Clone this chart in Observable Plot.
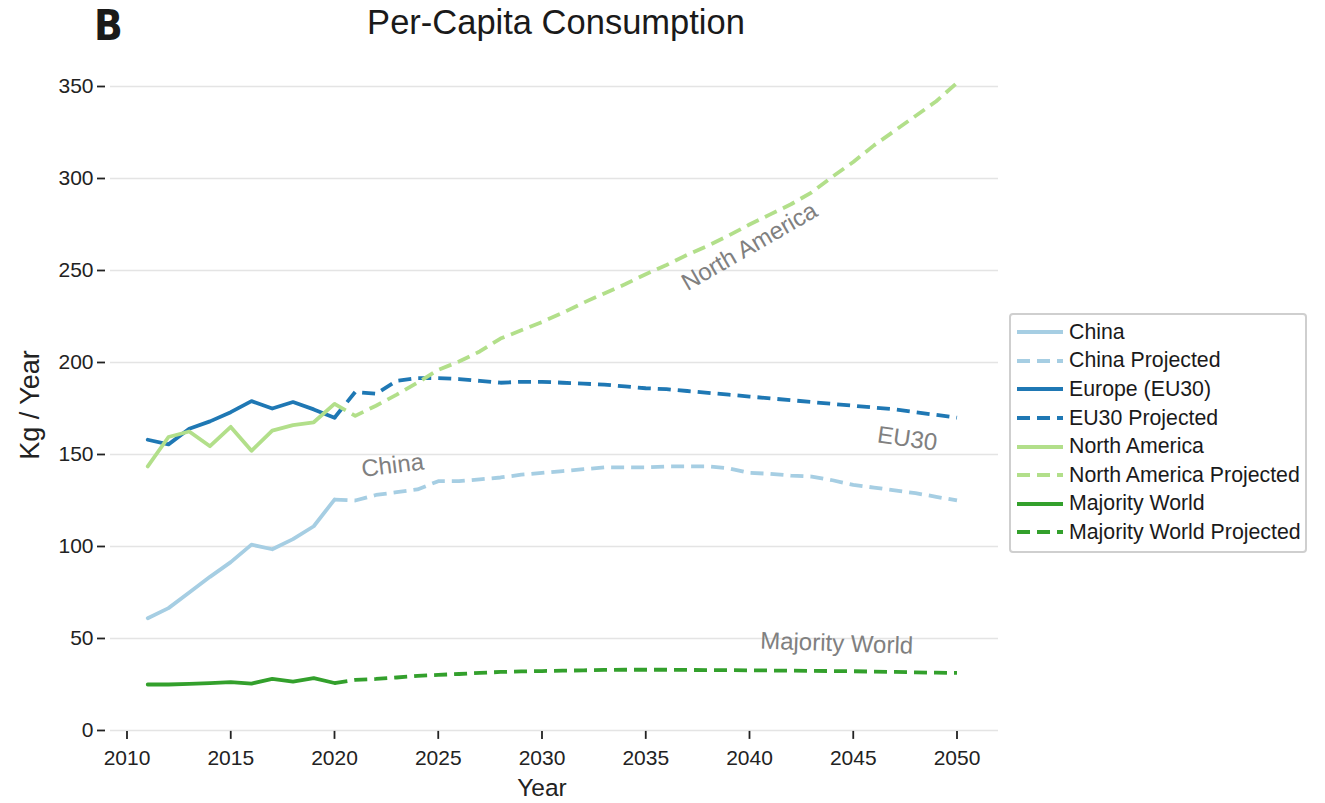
<!DOCTYPE html>
<html>
<head>
<meta charset="utf-8">
<script src="https://cdn.jsdelivr.net/npm/d3@7"></script>
<script src="https://cdn.jsdelivr.net/npm/@observablehq/plot@0.6"></script>
<style>
  html, body { margin: 0; padding: 0; background: #fff; }
  body { width: 1325px; height: 803px; position: relative; overflow: hidden; font-family: "Liberation Sans", Arial, Helvetica, sans-serif; color: #222; }
  #chart { position: absolute; left: 0; top: 0; }
  .abs { position: absolute; white-space: nowrap; }
  #panel { left: 94px; top: 1px; font-size: 42px; font-weight: bold; font-family: "Liberation Sans Narrow", "DejaVu Sans Condensed", "Liberation Sans", sans-serif; color: #1a1a1a; }
  #title { left: 556px; top: 3px; transform: translateX(-50%); font-size: 34.5px; color: #1a1a1a; }
  #xtitle { left: 542px; top: 774px; transform: translateX(-50%); font-size: 24.5px; color: #222; }
  #ytitle { left: 30px; top: 405px; transform: translate(-50%, -50%) rotate(-90deg); font-size: 27px; color: #222; }
  #legend { left: 1009px; top: 313px; width: 298px; height: 240px; border: 2px solid #cfcfcf; border-radius: 4px; box-sizing: border-box; padding-top: 3px; }
  .row { height: 28.6px; display: flex; align-items: center; font-size: 21.3px; color: #1a1a1a; }
  .row svg { margin-left: 6px; margin-right: 6px; }
</style>
</head>
<body>
<div id="chart"></div>
<div class="abs" id="panel">B</div>
<div class="abs" id="title">Per-Capita Consumption</div>
<div class="abs" id="xtitle">Year</div>
<div class="abs" id="ytitle">Kg / Year</div>
<div class="abs" id="legend"></div>
<script>
// ---- data ----
const histYears = [2011, 2012, 2013, 2014, 2015, 2016, 2017, 2018, 2019, 2020];
const projYears = [2020, 2021, 2022, 2023, 2024, 2025, 2026, 2027, 2028, 2029, 2030,
                   2031, 2032, 2033, 2034, 2035, 2036, 2037, 2038, 2039, 2040,
                   2041, 2042, 2043, 2044, 2045, 2046, 2047, 2048, 2049, 2050];

const chinaHist = [61, 66.5, 75, 83.5, 91.5, 101, 98.5, 104, 111, 125.5];
const chinaProj = [125.5, 125, 128, 129.5, 131, 135.5, 135.5, 136.5, 137.5, 139, 140,
                   141, 142, 143, 143, 143, 143.5, 143.5, 143.5, 142.5, 140,
                   139.5, 138.5, 138, 136, 133.5, 132, 130.5, 129, 127, 125];

const euHist = [158, 155.5, 164, 168, 173, 179, 175, 178.5, 174.5, 170];
const euProj = [170, 184, 183, 190, 191.5, 191.5, 191, 190, 189, 189.5, 189.5,
                189, 188.5, 188, 187, 186, 185.5, 184.5, 183.5, 182.5, 181.5,
                180.5, 179.5, 178.5, 177.5, 176.5, 175.5, 174.5, 173, 171.5, 170];

const naHist = [143.5, 159.5, 162.5, 154.5, 165, 152, 163, 166, 167.5, 177.5];
const naProj = [177.5, 171, 176.5, 182.5, 189, 196, 200.5, 206, 213, 217.5, 222,
                227, 232.5, 237.5, 242.5, 248, 253, 258.5, 263.5, 269, 275,
                280.5, 286, 292.5, 301, 309, 318, 326, 334, 342, 352];

const mwHist = [25, 25, 25.3, 25.7, 26.3, 25.5, 28, 26.5, 28.5, 25.8];
const mwProj = [25.8, 27.5, 28, 28.8, 29.7, 30.2, 30.7, 31.3, 31.8, 32.1, 32.3,
                32.5, 32.7, 32.9, 33, 33, 33, 32.9, 32.8, 32.8, 32.7,
                32.6, 32.5, 32.4, 32.3, 32.2, 32, 31.8, 31.6, 31.4, 31.3];

const xTicks = [2010, 2015, 2020, 2025, 2030, 2035, 2040, 2045, 2050];
const yTicks = [0, 50, 100, 150, 200, 250, 300, 350];

const seriesNames = ["China", "China Projected", "Europe (EU30)", "EU30 Projected",
                     "North America", "North America Projected", "Majority World", "Majority World Projected"];
const seriesColors = ["#a6cee3", "#a6cee3", "#1f78b4", "#1f78b4", "#b2df8a", "#b2df8a", "#33a02c", "#33a02c"];
const seriesDashed = [false, true, false, true, false, true, false, true];

const labelTexts = ["North America", "EU30", "China", "Majority World"];
const labelYears = [2040.0, 2047.6, 2022.8, 2044.2];
const labelValues = [263, 158.5, 144, 47.3];
const labelAngles = [-30, 8, -7, 2];

// ---- build tables ----
const seriesData = [
  [histYears, chinaHist], [projYears, chinaProj],
  [histYears, euHist], [projYears, euProj],
  [histYears, naHist], [projYears, naProj],
  [histYears, mwHist], [projYears, mwProj]
].map(([ys, vs], i) => ys.map((y, j) => ({year: y, value: vs[j], name: seriesNames[i]})));

const labels = labelTexts.map((t, i) => ({text: t, year: labelYears[i], value: labelValues[i], angle: labelAngles[i]}));

const lineMarks = seriesData.map((d, i) => Plot.line(d, {
  x: "year", y: "value",
  stroke: seriesColors[i],
  strokeWidth: 3.8,
  strokeDasharray: seriesDashed[i] ? "13,7" : null,
  strokeLinejoin: "round",
  strokeLinecap: seriesDashed[i] ? "butt" : "round"
}));

const chart = Plot.plot({
  width: 1000,
  height: 803,
  marginLeft: 110,
  marginRight: 2,
  marginTop: 67.6,
  marginBottom: 72.1,
  style: {fontFamily: "'Liberation Sans', Arial, Helvetica, sans-serif", background: "transparent"},
  x: {domain: [2009.205, 2052.0]},
  y: {domain: [-0.5, 360]},
  marks: [
    Plot.gridY(yTicks, {stroke: "#e4e4e4", strokeOpacity: 1, strokeWidth: 1.6}),
    Plot.axisY(yTicks, {tickSize: 8, tickPadding: 4, dx: -5, fontSize: 21, label: null, stroke: "#222", strokeWidth: 1.8, fill: "#222"}),
    Plot.axisX(xTicks, {tickSize: 8, tickPadding: 11, fontSize: 21, label: null, tickFormat: d => String(d), stroke: "#222", strokeWidth: 1.8, fill: "#222"}),
    ...lineMarks,
    Plot.text(labels, {x: "year", y: "value", text: "text", rotate: "angle", fontSize: 24, fill: "#808080"})
  ]
});
document.getElementById("chart").appendChild(chart);

// ---- legend ----
const legend = document.getElementById("legend");
seriesNames.forEach((name, i) => {
  const row = document.createElement("div");
  row.className = "row";
  const ns = "http://www.w3.org/2000/svg";
  const sw = document.createElementNS(ns, "svg");
  sw.setAttribute("width", "46");
  sw.setAttribute("height", "10");
  const ln = document.createElementNS(ns, "line");
  ln.setAttribute("x1", "0"); ln.setAttribute("x2", "46");
  ln.setAttribute("y1", "5"); ln.setAttribute("y2", "5");
  ln.setAttribute("stroke", seriesColors[i]);
  ln.setAttribute("stroke-width", "3.8");
  if (seriesDashed[i]) ln.setAttribute("stroke-dasharray", "13,7");
  sw.appendChild(ln);
  const tx = document.createElement("span");
  tx.textContent = name;
  row.appendChild(sw);
  row.appendChild(tx);
  legend.appendChild(row);
});
</script>
</body>
</html>
